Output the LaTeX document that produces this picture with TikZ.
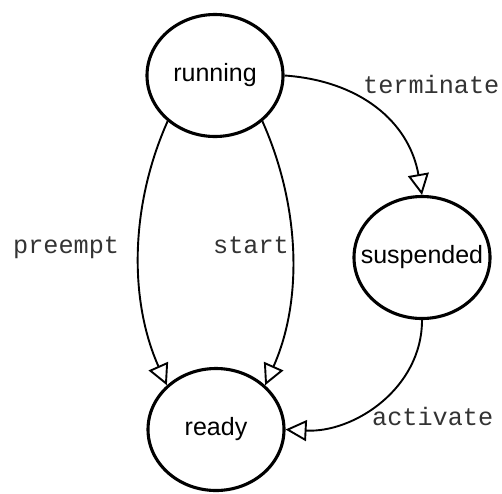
\documentclass[tikz,border=0pt]{standalone}
\usepackage{fontspec}
\setmainfont{Liberation Sans}
\newfontfamily\labelfont{Liberation Mono}
\usetikzlibrary{arrows.meta,shapes.geometric}
\begin{document}
\begin{tikzpicture}[x=1pt,y=1pt,
  state/.style={ellipse, draw=black, line width=3.1pt, fill=white,
    minimum width=136pt, minimum height=122pt, inner sep=0pt,
    font=\fontsize{25}{30}\selectfont},
  edge/.style={line width=1.9pt,
    -{Triangle[open, length=21pt, width=21pt, line width=1.9pt, fill=white]}},
  lbl/.style={inner sep=0pt, anchor=base west, text=black!80,
    font=\labelfont\fontsize{25.2}{30}\selectfont}]
\useasboundingbox (0,0) rectangle (502,-493);
\node[state] (running) at (215,-75.5) {running};
\node[state] (suspended) at (422,-257.5) {\makebox[80pt]{suspended}};
\node[state] (ready) at (216,-429.5) {ready};
\draw[edge] (running.-136) to[out=-114, in=114, looseness=0.9] (ready.138);
\draw[edge] (running.-44) to[out=-66, in=66, looseness=0.9] (ready.42);
\draw[edge] (running.0) to[out=-4, in=100, looseness=1.05] (suspended.90);
\draw[edge] (suspended.-90) to[out=-90, in=-3, looseness=1] (ready.0);
\node[lbl] (lpre) at (13,-253) {preempt};
\node[lbl] (lsta) at (213,-253) {start};
\node[lbl] (lter) at (363,-93) {terminate};
\node[lbl] (lact) at (372,-425) {activate};
\end{tikzpicture}
\end{document}
